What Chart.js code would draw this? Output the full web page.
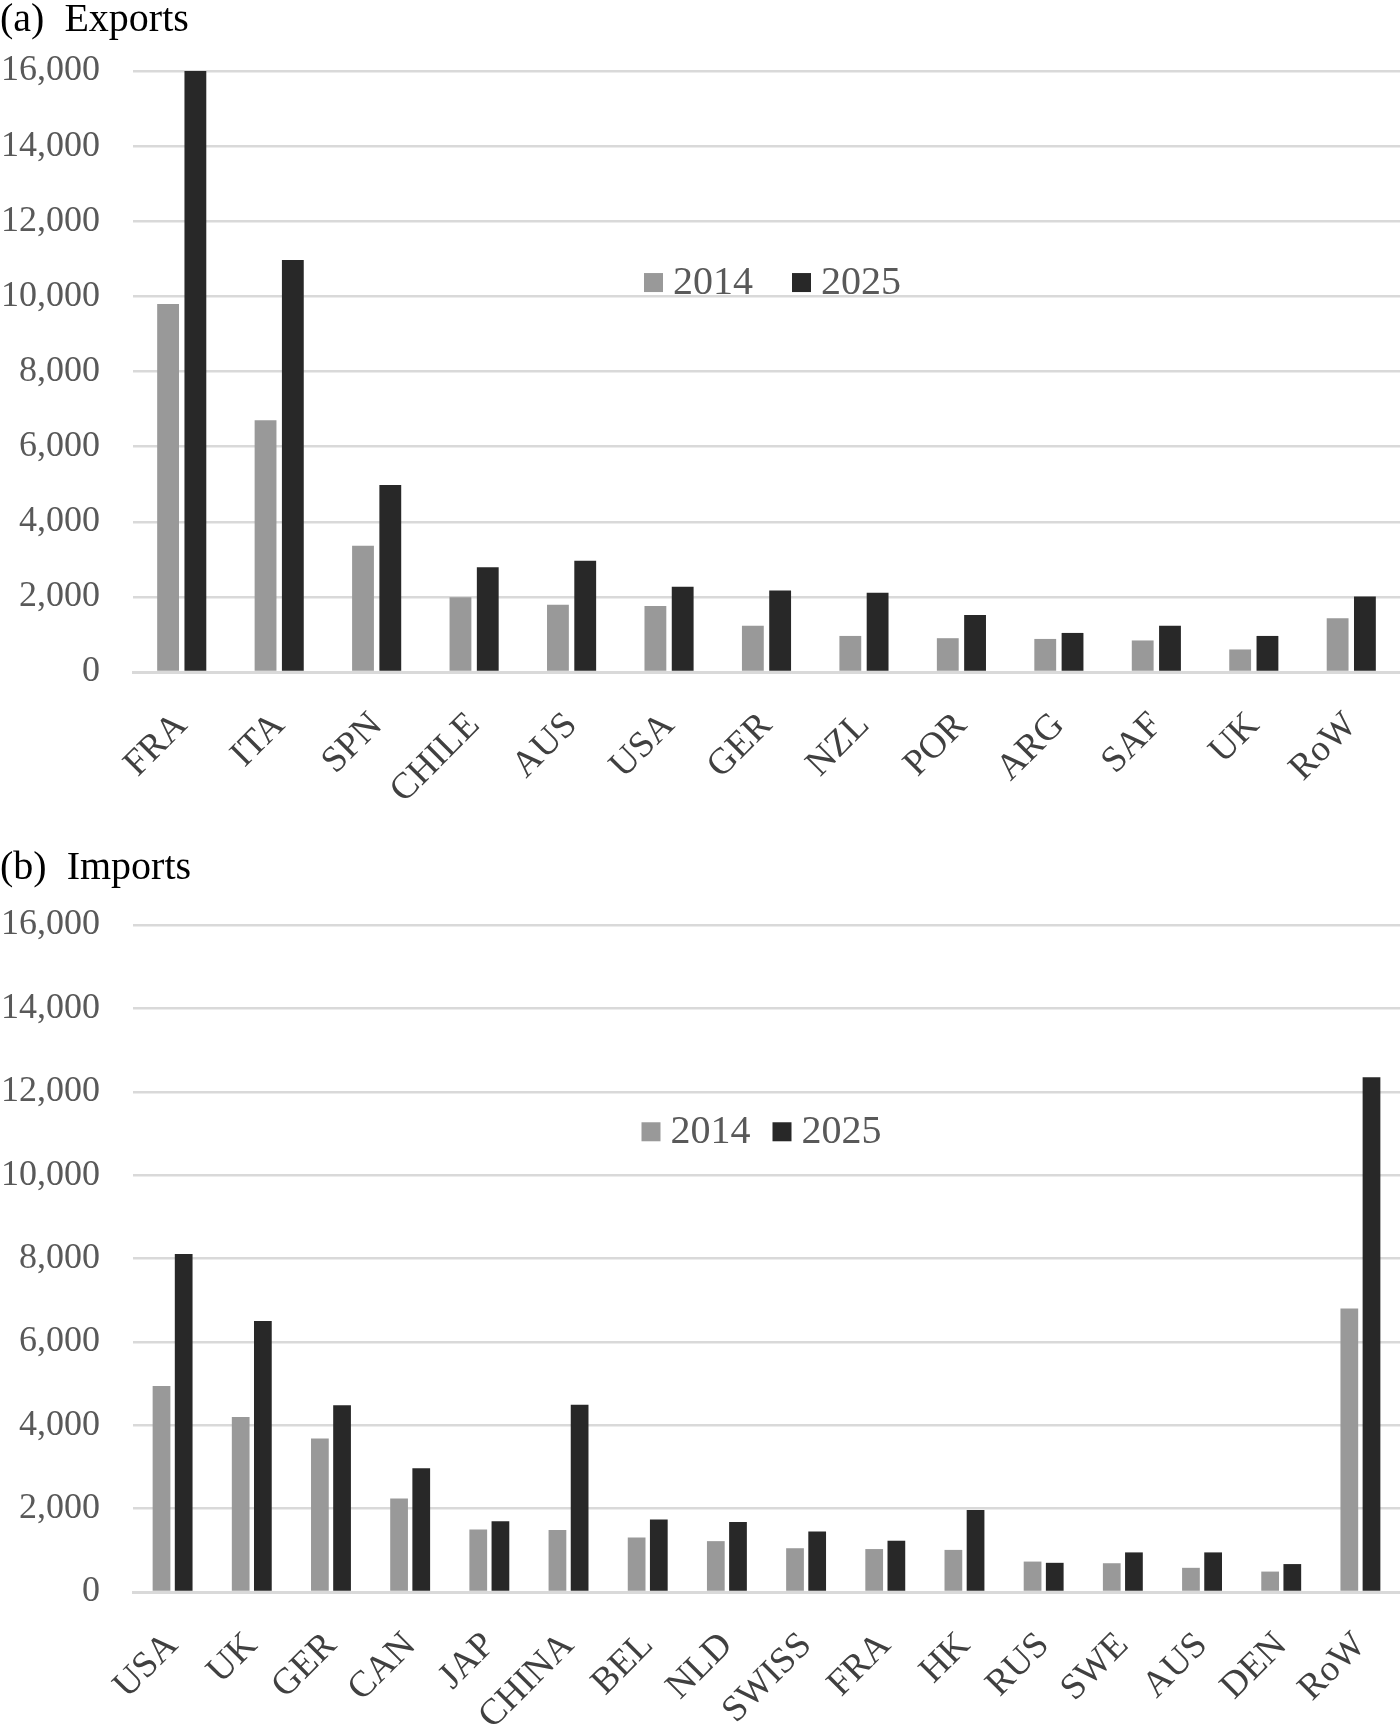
<!DOCTYPE html>
<html>
<head>
<meta charset="utf-8">
<script src="https://cdn.jsdelivr.net/npm/chart.js@4.4.1/dist/chart.umd.min.js"></script>
<style>
    body { margin: 0; background: #fff; }
    canvas { display: block; }
</style>
</head>
<body>
<canvas id="graficoExport" width="1400" height="833"></canvas>
<canvas id="graficoImport" width="1400" height="896"></canvas>
<script>
// Exportaciones (a)
const paisesExport = ['FRA', 'ITA', 'SPN', 'CHILE', 'AUS', 'USA', 'GER', 'NZL', 'POR', 'ARG', 'SAF', 'UK', 'RoW'];
const export2014 = [9800, 6700, 3360, 1990, 1790, 1760, 1230, 960, 900, 880, 840, 600, 1430];
const export2025 = [16000, 10970, 4980, 2790, 2960, 2270, 2170, 2110, 1520, 1040, 1230, 960, 2010];

// Importaciones (b)
const paisesImport = ['USA', 'UK', 'GER', 'CAN', 'JAP', 'CHINA', 'BEL', 'NLD', 'SWISS', 'FRA', 'HK', 'RUS', 'SWE', 'AUS', 'DEN', 'RoW'];
const import2014 = [4940, 4200, 3680, 2240, 1500, 1490, 1310, 1220, 1050, 1030, 1010, 730, 690, 580, 490, 6800];
const import2025 = [8110, 6500, 4480, 2970, 1700, 4490, 1740, 1680, 1450, 1230, 1970, 700, 950, 950, 670, 12350];

const etiquetasAnio = ['2014', '2025'];
const ticksEje = [0, 2000, 4000, 6000, 8000, 10000, 12000, 14000, 16000];

const colorGris = '#999999';
const colorOscuro = '#282828';
const fuenteSerif = '"Liberation Serif", "Times New Roman", serif';

// leyenda dibujada dentro del area del grafico
const leyendaInterna = {
    id: 'leyendaInterna',
    afterDraw(chart, args, opts) {
        const ctx = chart.ctx;
        const area = chart.chartArea;
        ctx.save();
        ctx.font = opts.tamFuente + 'px ' + fuenteSerif;
        const items = chart.data.datasets.map(ds => ({
            texto: ds.label,
            color: ds.backgroundColor,
            ancho: ctx.measureText(ds.label).width
        }));
        const total = items.reduce((s, it) => s + opts.caja + opts.sep + it.ancho, 0) + opts.hueco * (items.length - 1);
        let x = (area.left + area.right) / 2 - total / 2 + opts.desplX;
        const y = area.top + area.height * opts.posY;
        items.forEach(it => {
            ctx.fillStyle = it.color;
            ctx.fillRect(x, y - opts.caja / 2, opts.caja, opts.caja);
            x += opts.caja + opts.sep;
            ctx.fillStyle = '#595959';
            ctx.textBaseline = 'middle';
            ctx.textAlign = 'left';
            ctx.fillText(it.texto, x, y + 1);
            x += it.ancho + opts.hueco;
        });
        ctx.restore();
    }
};

function crearGrafico(idCanvas, titulo, categorias, datos14, datos25, altoEjeX, tituloPad, posLeyenda) {
    const ctx = document.getElementById(idCanvas).getContext('2d');
    return new Chart(ctx, {
        type: 'bar',
        data: {
            labels: categorias,
            datasets: [{
                label: etiquetasAnio[0],
                data: datos14,
                backgroundColor: colorGris,
                categoryPercentage: 0.56,
                barPercentage: 0.8
            }, {
                label: etiquetasAnio[1],
                data: datos25,
                backgroundColor: colorOscuro,
                categoryPercentage: 0.56,
                barPercentage: 0.8
            }]
        },
        plugins: [leyendaInterna],
        options: {
            responsive: false,
            animation: false,
            layout: { padding: 0 },
            scales: {
                x: {
                    grid: { display: false, drawTicks: false },
                    border: { display: true, color: '#d9d9d9', width: 3 },
                    ticks: {
                        autoSkip: false,
                        maxRotation: 45,
                        minRotation: 45,
                        padding: 32,
                        color: '#404040',
                        font: { family: fuenteSerif, size: 37 }
                    },
                    afterFit: (scale) => {
                        scale.height = altoEjeX;
                        scale.paddingRight = 0;
                        scale.paddingLeft = 0;
                    }
                },
                y: {
                    min: 0,
                    max: 16000,
                    grid: { color: '#d9d9d9', lineWidth: 2.5, drawTicks: false },
                    border: { display: false },
                    afterBuildTicks: (scale) => { scale.ticks = ticksEje.map(v => ({ value: v })); },
                    ticks: {
                        padding: 33,
                        color: '#595959',
                        font: { family: fuenteSerif, size: 36 },
                        callback: (v) => v.toLocaleString('en-US')
                    },
                    afterFit: (scale) => { scale.width = 133; }
                }
            },
            plugins: {
                legend: { display: false },
                tooltip: { enabled: false },
                title: {
                    display: true,
                    text: titulo,
                    align: 'start',
                    color: '#000000',
                    font: { family: fuenteSerif, size: 40, weight: 'normal', lineHeight: 0.9 },
                    padding: tituloPad
                },
                leyendaInterna: posLeyenda
            }
        }
    });
}

crearGrafico('graficoExport', '(a)  Exports', paisesExport, export2014, export2025, 161,
    { top: 2, bottom: 33 },
    { tamFuente: 40, caja: 19, sep: 10, hueco: 39, posY: 0.352, desplX: 6 });

crearGrafico('graficoImport', '(b)  Imports', paisesImport, import2014, import2025, 137,
    { top: 17, bottom: 39 },
    { tamFuente: 40, caja: 19, sep: 10, hueco: 22, posY: 0.31, desplX: -5 });
</script>
</body>
</html>
